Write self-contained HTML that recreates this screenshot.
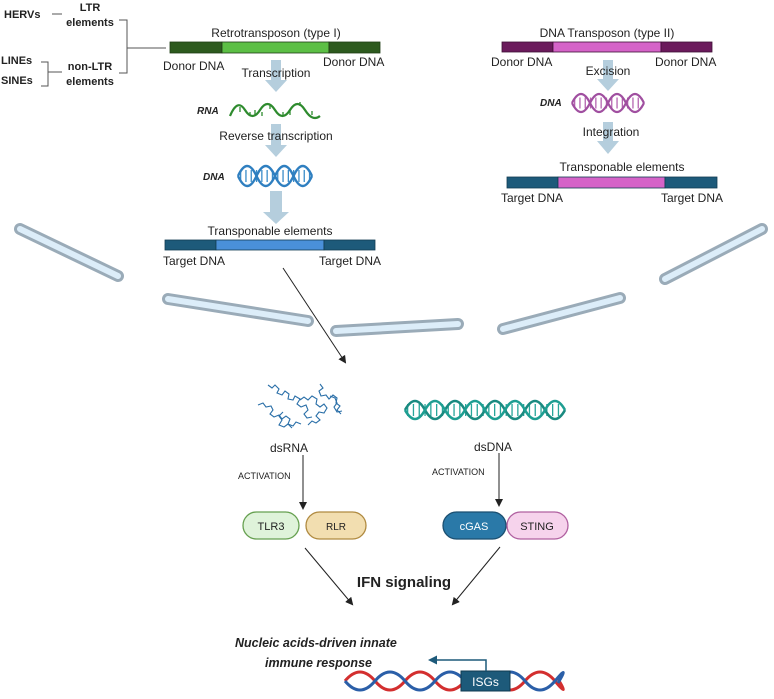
<!DOCTYPE html>
<html><head><meta charset="utf-8"><style>
html,body{margin:0;padding:0;background:#fff;}
svg{display:block;font-family:"Liberation Sans",Arial,sans-serif;}
</style></head><body>
<svg width="774" height="699" viewBox="0 0 774 699" xmlns="http://www.w3.org/2000/svg">
<defs>
<marker id="ah" markerWidth="8" markerHeight="8" refX="6" refY="4" orient="auto" markerUnits="userSpaceOnUse"><path d="M0,0 L8,4 L0,8 z" fill="#222"/></marker>
<marker id="ahb" markerWidth="9" markerHeight="9" refX="6" refY="4.5" orient="auto" markerUnits="userSpaceOnUse"><path d="M0,0 L9,4.5 L0,9 z" fill="#1d5a7a"/></marker>
</defs>

<g font-size="11" font-weight="bold" fill="#222">
<text x="4" y="18">HERVs</text>
<text x="90" y="11" text-anchor="middle">LTR</text>
<text x="90" y="26" text-anchor="middle">elements</text>
<text x="1" y="64">LINEs</text>
<text x="1" y="84">SINEs</text>
<text x="90" y="70" text-anchor="middle">non-LTR</text>
<text x="90" y="85" text-anchor="middle">elements</text>
</g>
<g stroke="#555" stroke-width="1" fill="none">
<line x1="52" y1="14" x2="62" y2="14"/>
<path d="M119 20 H127 V73 H119"/>
<line x1="127" y1="48" x2="166" y2="48"/>
<path d="M41 62 H48 V86 H41"/>
<line x1="48" y1="72" x2="62" y2="72"/>
</g>

<g font-size="12" fill="#222">
<text x="276" y="37" text-anchor="middle">Retrotransposon (type I)</text>
<text x="163" y="70">Donor DNA</text>
<text x="323" y="66">Donor DNA</text>
</g>
<rect x="170" y="42" width="52" height="11" fill="#2d5a1e" stroke="#1e3d14" stroke-width="0.8"/>
<rect x="222" y="42" width="107" height="11" fill="#5cbf45" stroke="#1e3d14" stroke-width="0.8"/>
<rect x="329" y="42" width="51" height="11" fill="#2d5a1e" stroke="#1e3d14" stroke-width="0.8"/>

<g fill="#b5cedd">
<path d="M271 60 H281 V80 H287 L276 92 L265 80 H271 Z"/>
<path d="M271 124 H281 V145 H287 L276 157 L265 145 H271 Z"/>
<path d="M270 191 H282 V212 H289 L276 224 L263 212 H270 Z"/>
<path d="M603 60 H613 V79 H619 L608 91 L597 79 H603 Z"/>
<path d="M603 122 H613 V141 H619 L608 154 L597 141 H603 Z"/>
</g>
<g font-size="12" fill="#222">
<text x="276" y="77" text-anchor="middle">Transcription</text>
<text x="276" y="140" text-anchor="middle">Reverse transcription</text>
<text x="270" y="235" text-anchor="middle">Transponable elements</text>
<text x="163" y="265">Target DNA</text>
<text x="319" y="265">Target DNA</text>
</g>
<g font-size="10" font-weight="bold" font-style="italic" fill="#222">
<text x="197" y="114">RNA</text>
<text x="203" y="180">DNA</text>
<text x="540" y="106">DNA</text>
</g>
<path d="M230 116 Q237.5 98 245 110 T260 110 T275 110 T290 110 T305 110 T320 116" fill="none" stroke="#2e8b2e" stroke-width="2.2"/>
<path d="M240 112 V107 M250 112 V116 M255 110 V115 M262 112 V116 M270 109 V104 M283 112 V116 M290 110 V115 M300 106 V102 M312 111 V115" stroke="#2e8b2e" stroke-width="1.3"/>
<!-- blue helix -->
<line x1="240" y1="176" x2="311" y2="176" stroke="#3a8cc9" stroke-width="12" stroke-dasharray="1.3 4"/>
<path d="M238 176 Q247.25 156 256.5 176 T275 176 T293.5 176 T312 176" fill="none" stroke="#2f7fc0" stroke-width="2.4"/>
<path d="M238 176 Q247.25 196 256.5 176 T275 176 T293.5 176 T312 176" fill="none" stroke="#2f7fc0" stroke-width="2.4"/>
<rect x="165" y="240" width="51" height="10" fill="#1d5a7a" stroke="#123c52" stroke-width="0.8"/>
<rect x="216" y="240" width="108" height="10" fill="#4a90d9" stroke="#123c52" stroke-width="0.8"/>
<rect x="324" y="240" width="51" height="10" fill="#1d5a7a" stroke="#123c52" stroke-width="0.8"/>

<g font-size="12" fill="#222">
<text x="607" y="37" text-anchor="middle">DNA Transposon (type II)</text>
<text x="491" y="66">Donor DNA</text>
<text x="655" y="66">Donor DNA</text>
<text x="608" y="75" text-anchor="middle">Excision</text>
<text x="611" y="136" text-anchor="middle">Integration</text>
<text x="622" y="171" text-anchor="middle">Transponable elements</text>
<text x="501" y="202">Target DNA</text>
<text x="661" y="202">Target DNA</text>
</g>
<rect x="502" y="42" width="51" height="10" fill="#6b1a5c" stroke="#3d0f35" stroke-width="0.8"/>
<rect x="553" y="42" width="108" height="10" fill="#d563c8" stroke="#3d0f35" stroke-width="0.8"/>
<rect x="661" y="42" width="51" height="10" fill="#6b1a5c" stroke="#3d0f35" stroke-width="0.8"/>
<line x1="574" y1="103" x2="643" y2="103" stroke="#b565b0" stroke-width="11" stroke-dasharray="1.3 4"/>
<path d="M572 103 Q581 85 590 103 T608 103 T626 103 T644 103" fill="none" stroke="#a04fa0" stroke-width="2.2"/>
<path d="M572 103 Q581 121 590 103 T608 103 T626 103 T644 103" fill="none" stroke="#a04fa0" stroke-width="2.2"/>
<rect x="507" y="177" width="51" height="11" fill="#1d5a7a" stroke="#123c52" stroke-width="0.8"/>
<rect x="558" y="177" width="107" height="11" fill="#d563c8" stroke="#123c52" stroke-width="0.8"/>
<rect x="665" y="177" width="52" height="11" fill="#1d5a7a" stroke="#123c52" stroke-width="0.8"/>

<g stroke-linecap="round" fill="none">
<g stroke="#9aabb8" stroke-width="12">
<line x1="20" y1="229" x2="118" y2="276"/>
<line x1="168" y1="299" x2="308" y2="321"/>
<line x1="336" y1="331" x2="458" y2="324"/>
<line x1="503" y1="329" x2="620" y2="298"/>
<line x1="665" y1="279" x2="762" y2="229"/>
</g>
<g stroke="#dcedf9" stroke-width="6">
<line x1="20" y1="229" x2="118" y2="276"/>
<line x1="168" y1="299" x2="308" y2="321"/>
<line x1="336" y1="331" x2="458" y2="324"/>
<line x1="503" y1="329" x2="620" y2="298"/>
<line x1="665" y1="279" x2="762" y2="229"/>
</g>
</g>

<line x1="283" y1="268" x2="345" y2="362" stroke="#222" stroke-width="1" marker-end="url(#ah)"/>

<g fill="none" stroke="#2a6fa8" stroke-width="1.1">
<path d="M268 385 l4 3 l3 -3 l4 4 l-2 4 l5 2 l3 -4 l4 3 l-1 5 l5 1 l2 -4 l5 3 l-3 5 l4 3 l5 -2 l2 5 l-4 4 l3 4 l5 -1"/>
<path d="M258 405 l5 -2 l3 4 l5 -1 l2 4 l-3 4 l4 3 l5 -2 l3 4 l4 -3 l4 3 l-2 5 l5 2 l3 -4 l5 2"/>
<path d="M320 384 l3 4 l-4 3 l2 5 l5 -1 l3 4 l4 -4 l4 3 l-1 5 l4 3 l-3 4 l4 4"/>
<path d="M300 400 l4 -3 l4 3 l4 -4 l5 3 l-1 5 l4 3 l4 -3 l3 4 l-3 5 l-5 -1 l-3 4 l4 4 l-4 3 l-4 -2 l-4 4"/>
<path d="M283 412 l-4 4 l3 4 l-3 5 l5 2 l4 -3 l4 4"/>
<path d="M330 396 l5 2 l2 5 l-3 4 l3 5 l5 -1"/>
</g>
<g font-size="12" fill="#222">
<text x="289" y="452" text-anchor="middle">dsRNA</text>
<text x="493" y="451" text-anchor="middle">dsDNA</text>
</g>
<!-- dsDNA teal: half period 20 -->
<line x1="407" y1="410" x2="563" y2="410" stroke="#26a69a" stroke-width="12" stroke-dasharray="1.3 4.5"/>
<path d="M405 410 Q415 392 425 410 T445 410 T465 410 T485 410 T505 410 T525 410 T545 410 T565 410" fill="none" stroke="#1a8a80" stroke-width="2.6"/>
<path d="M405 410 Q415 428 425 410 T445 410 T465 410 T485 410 T505 410 T525 410 T545 410 T565 410" fill="none" stroke="#1e9e92" stroke-width="2.6"/>

<g font-size="9" fill="#222">
<text x="238" y="479">ACTIVATION</text>
<text x="432" y="475">ACTIVATION</text>
</g>
<line x1="303" y1="455" x2="303" y2="508" stroke="#222" stroke-width="1" marker-end="url(#ah)"/>
<line x1="499" y1="453" x2="499" y2="505" stroke="#222" stroke-width="1" marker-end="url(#ah)"/>

<rect x="243" y="512" width="56" height="27" rx="13.5" fill="#dff3da" stroke="#66a050" stroke-width="1.3"/>
<rect x="306" y="512" width="60" height="27" rx="13.5" fill="#f2deb0" stroke="#b08a40" stroke-width="1.3"/>
<rect x="443" y="512" width="63" height="27" rx="13.5" fill="#2a79a8" stroke="#1b4f70" stroke-width="1.3"/>
<rect x="507" y="512" width="61" height="27" rx="13.5" fill="#f6d3ec" stroke="#b060a0" stroke-width="1.3"/>
<g font-size="11" text-anchor="middle">
<text x="271" y="530" fill="#222">TLR3</text>
<text x="336" y="530" fill="#222" font-size="10">RLR</text>
<text x="474" y="530" fill="#fff">cGAS</text>
<text x="537" y="530" fill="#222">STING</text>
</g>

<line x1="305" y1="548" x2="352" y2="604" stroke="#222" stroke-width="1" marker-end="url(#ah)"/>
<line x1="500" y1="547" x2="453" y2="604" stroke="#222" stroke-width="1" marker-end="url(#ah)"/>
<text x="404" y="587" text-anchor="middle" font-size="15" font-weight="bold" fill="#222">IFN signaling</text>

<g font-size="12.5" font-weight="bold" font-style="italic" fill="#222">
<text x="235" y="647">Nucleic acids-driven innate</text>
<text x="265" y="667">immune response</text>
</g>

<!-- bottom DNA: half period 30 -->
<path d="M345 681 Q360 663 375 681 T405 681 T435 681 T465 681 T495 681 T525 681 T555 681 T558 679" fill="none" stroke="#d32f2f" stroke-width="3"/>
<path d="M345 681 Q360 699 375 681 T405 681 T435 681 T465 681 T495 681 T525 681 T555 681 T558 683" fill="none" stroke="#2b5fa8" stroke-width="3"/>
<rect x="461" y="671" width="49" height="20" fill="#1d5a7a" stroke="#0f3a50" stroke-width="1"/>
<text x="485.5" y="686" text-anchor="middle" font-size="12" fill="#fff">ISGs</text>
<path d="M486 671 V660 H431" fill="none" stroke="#1d5a7a" stroke-width="1.5" marker-end="url(#ahb)"/>
</svg>
</body></html>
